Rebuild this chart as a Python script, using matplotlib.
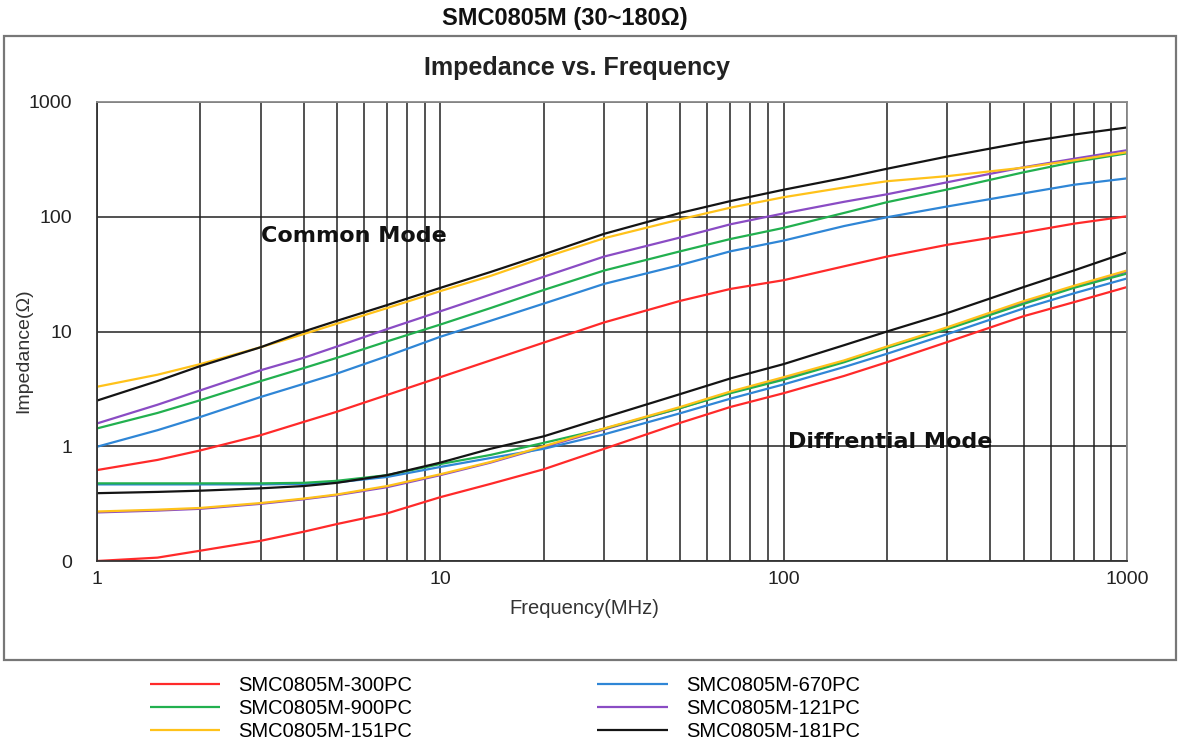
import matplotlib
matplotlib.use('Agg')
import matplotlib.pyplot as plt
import numpy as np
from matplotlib.patches import Rectangle
from matplotlib.ticker import FixedLocator, NullFormatter

# frequency points (MHz)
freq = [1, 1.5, 2, 3, 4, 5, 7, 10, 14, 20, 30, 50, 70, 100, 150, 200, 300, 500, 700, 1000]

# common mode impedance (ohm)
cm_300 = [0.62, 0.76, 0.92, 1.25, 1.63, 2.0, 2.8, 4.0, 5.6, 8.0, 12, 18.5, 23.5, 28, 37, 45, 57, 73, 87, 101]
cm_670 = [0.99, 1.38, 1.8, 2.69, 3.5, 4.3, 6.1, 9.0, 12.4, 17.5, 26, 38, 50, 62, 83, 99, 123, 160, 190, 216]
cm_900 = [1.43, 1.95, 2.52, 3.7, 4.8, 5.9, 8.2, 11.5, 16, 23, 34, 50, 64, 80, 108, 134, 173, 244, 300, 357]
cm_121 = [1.58, 2.3, 3.07, 4.6, 5.9, 7.4, 10.5, 15, 21, 30, 45, 66, 86, 107, 135, 157, 200, 270, 320, 380]
cm_151 = [3.3, 4.2, 5.2, 7.3, 9.5, 11.7, 16, 22.5, 30.5, 44, 65, 95, 120, 148, 180, 204, 226, 268, 310, 365]
cm_181 = [2.5, 3.7, 5.0, 7.3, 10, 12.4, 17, 24, 33, 47, 71, 108, 137, 172, 218, 262, 335, 445, 520, 600]

# differential mode impedance (ohm)
dm_300 = [0.1, 0.107, 0.123, 0.15, 0.18, 0.21, 0.26, 0.36, 0.47, 0.63, 0.95, 1.6, 2.2, 2.9, 4.1, 5.4, 8.1, 13.6, 18, 24.4]
dm_670 = [0.465, 0.465, 0.465, 0.465, 0.47, 0.485, 0.54, 0.66, 0.79, 0.95, 1.27, 1.94, 2.6, 3.46, 4.9, 6.4, 9.5, 15.9, 21.5, 29]
dm_900 = [0.475, 0.475, 0.475, 0.475, 0.48, 0.5, 0.56, 0.7, 0.84, 1.07, 1.42, 2.15, 2.9, 3.8, 5.4, 7.2, 10.5, 17.4, 24, 32]
dm_121 = [0.265, 0.275, 0.285, 0.315, 0.345, 0.375, 0.44, 0.56, 0.72, 0.98, 1.4, 2.15, 2.95, 3.9, 5.5, 7.3, 10.7, 18, 24.5, 33.3]
dm_151 = [0.27, 0.28, 0.29, 0.32, 0.35, 0.38, 0.45, 0.57, 0.73, 1.0, 1.43, 2.2, 3.0, 4.0, 5.6, 7.4, 10.9, 18.4, 25, 34]
dm_181 = [0.39, 0.40, 0.41, 0.43, 0.45, 0.48, 0.56, 0.72, 0.95, 1.22, 1.78, 2.85, 3.9, 5.2, 7.6, 10, 14.5, 24.4, 34, 49]

names = ['SMC0805M-300PC', 'SMC0805M-900PC', 'SMC0805M-151PC',
         'SMC0805M-670PC', 'SMC0805M-121PC', 'SMC0805M-181PC']
colors = {'SMC0805M-300PC': '#ff2a2a', 'SMC0805M-670PC': '#2f86d6', 'SMC0805M-900PC': '#22b04f',
          'SMC0805M-121PC': '#8a4cc4', 'SMC0805M-151PC': '#ffc21a', 'SMC0805M-181PC': '#141414'}
cm = {'SMC0805M-300PC': cm_300, 'SMC0805M-670PC': cm_670, 'SMC0805M-900PC': cm_900,
      'SMC0805M-121PC': cm_121, 'SMC0805M-151PC': cm_151, 'SMC0805M-181PC': cm_181}
dm = {'SMC0805M-300PC': dm_300, 'SMC0805M-670PC': dm_670, 'SMC0805M-900PC': dm_900,
      'SMC0805M-121PC': dm_121, 'SMC0805M-151PC': dm_151, 'SMC0805M-181PC': dm_181}
draw_order = ['SMC0805M-300PC', 'SMC0805M-121PC', 'SMC0805M-670PC', 'SMC0805M-900PC',
              'SMC0805M-151PC', 'SMC0805M-181PC']

plt.rcParams['font.family'] = ['Liberation Sans', 'DejaVu Sans']

W, H = 1179, 746
fig = plt.figure(figsize=(W / 100, H / 100), dpi=100)
ax = fig.add_axes([97 / W, 1 - 561 / H, (1127 - 97) / W, (561 - 102) / H])

# outer frame
fig.patches.append(Rectangle((4 / W, 1 - 660 / H), (1176 - 4) / W, (660 - 36) / H,
                             transform=fig.transFigure, fill=False, edgecolor='#777777', lw=1.6))

handles = {}
for n in draw_order:
    h, = ax.plot(freq, cm[n], color=colors[n], lw=1.6, solid_capstyle='butt')
    ax.plot(freq, dm[n], color=colors[n], lw=1.6, solid_capstyle='butt')
    handles[n] = h

ax.set_xscale('log')
ax.set_yscale('log')
ax.set_xlim(1, 1000)
ax.set_ylim(0.1, 1000)

ax.xaxis.set_major_locator(FixedLocator([1, 10, 100, 1000]))
ax.xaxis.set_minor_locator(FixedLocator([m * 10 ** k for k in range(3) for m in range(2, 10)]))
ax.xaxis.set_minor_formatter(NullFormatter())
ax.set_xticklabels(['1', '10', '100', '1000'])
ax.yaxis.set_major_locator(FixedLocator([0.1, 1, 10, 100, 1000]))
ax.yaxis.set_minor_locator(FixedLocator([]))
ax.set_yticklabels(['0', '1', '10', '100', '1000'])
ax.tick_params(axis='both', which='both', length=0, labelsize=14, colors='#222222')
ax.tick_params(axis='y', pad=18)
ax.tick_params(axis='x', pad=7)

ax.grid(True, axis='x', which='both', color='#222222', lw=1.1)
ax.grid(True, axis='y', which='major', color='#222222', lw=1.1)
ax.set_axisbelow(True)
for s in ['top', 'right']:
    ax.spines[s].set_color('#8a8a8a')
for s in ['left', 'bottom']:
    ax.spines[s].set_color('#333333')
for s in ax.spines.values():
    s.set_linewidth(1.3)

ax.set_xlabel('Frequency(MHz)', fontsize=14.5, color='#333333', labelpad=8)
ax.set_ylabel('Impedance(Ω)', fontsize=14, color='#333333', labelpad=-3)
ax.xaxis.label.set_x((584 - 97) / 1030)
ax.yaxis.label.set_y(1 - (351 - 102) / 459)

ax.text(3.0, 68, 'Common Mode', fontsize=16, fontweight='bold', family=['DejaVu Sans'],
        va='center', ha='left', color='#111111')
ax.text(103, 1.1, 'Diffrential Mode', fontsize=16, fontweight='bold', family=['DejaVu Sans'],
        va='center', ha='left', color='#111111')

fig.text(565 / W, 1 - 18 / H, 'SMC0805M (30~180Ω)', fontsize=17, fontweight='bold',
         ha='center', va='center', color='#111111')
fig.text(577 / W, 1 - 68 / H, 'Impedance vs. Frequency', fontsize=18, fontweight='bold',
         ha='center', va='center', color='#222222')

fig.legend([handles[n] for n in names], names, loc='upper left',
           bbox_to_anchor=(150 / W, 1 - 676 / H), ncol=2, frameon=False,
           fontsize=14.5, handlelength=3.48, handletextpad=0.9, columnspacing=9.2,
           labelspacing=0.2, borderpad=0, borderaxespad=0)

fig.savefig('out.png', dpi=100)
